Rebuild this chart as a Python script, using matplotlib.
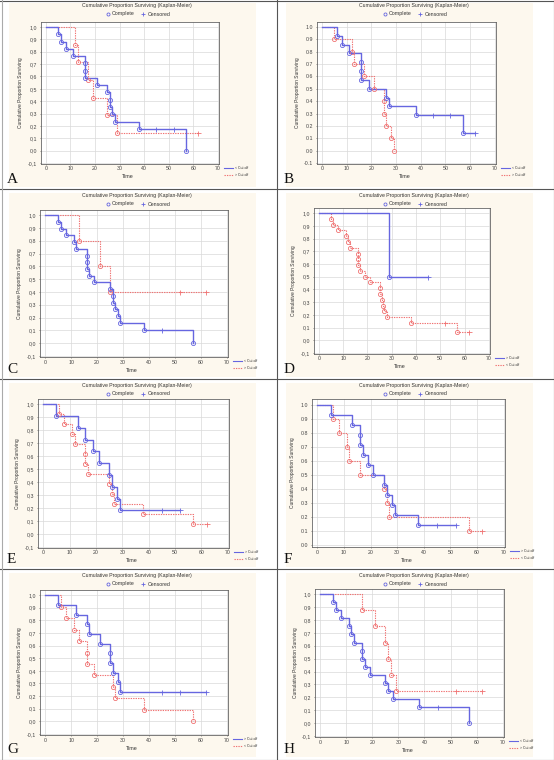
import matplotlib
matplotlib.use("Agg")
import matplotlib.pyplot as plt
from matplotlib.lines import Line2D
from matplotlib.patches import Rectangle
from matplotlib.ticker import FixedLocator, FuncFormatter

# ---------------- data (times of events, survival after event, censored times) -------------
A_blue_t = [5, 6, 8, 11, 16, 16, 16, 21, 25, 26, 26, 27, 28, 38, 57]
A_blue_s = [0.941, 0.882, 0.824, 0.765, 0.706, 0.647, 0.588, 0.529, 0.471, 0.412, 0.353, 0.294, 0.235, 0.176, 0.0]
A_blue_c = [45, 52]
A_red_t = [12, 13, 17, 19, 25, 29]
A_red_s = [0.857, 0.714, 0.571, 0.429, 0.286, 0.143]
A_red_c = [62]

B_blue_t = [6, 8, 11, 16, 16, 16, 19, 26, 27, 38, 57]
B_blue_s = [0.929, 0.857, 0.786, 0.714, 0.643, 0.571, 0.5, 0.429, 0.357, 0.286, 0.143]
B_blue_c = [45, 52, 62]
B_red_t = [5, 12, 13, 17, 21, 25, 25.3, 26, 28, 29]
B_red_s = [0.9, 0.8, 0.7, 0.6, 0.5, 0.4, 0.3, 0.2, 0.1, 0.0]
B_red_c = []

C_blue_t = [5, 6, 8, 11, 12, 16, 16, 16, 17, 19, 25, 26, 26, 27, 28, 29, 38, 57]
C_blue_s = [0.947, 0.895, 0.842, 0.789, 0.737, 0.684, 0.632, 0.579, 0.526, 0.474, 0.421, 0.368, 0.316,
            0.263, 0.211, 0.158, 0.105, 0.0]
C_blue_c = [45]
C_red_t = [13, 21, 25]
C_red_s = [0.8, 0.6, 0.4]
C_red_c = [52, 62]

D_blue_t = [29]
D_blue_s = [0.5]
D_blue_c = [45]
D_red_t = [5, 6, 8, 11, 12, 13, 16, 16, 16, 17, 19, 21, 25, 25, 26, 26.3, 27, 28, 38, 57]
D_red_s = [0.955, 0.909, 0.864, 0.818, 0.773, 0.727, 0.682, 0.636, 0.591, 0.545, 0.5, 0.455, 0.409,
           0.364, 0.318, 0.273, 0.227, 0.182, 0.136, 0.068]
D_red_c = [52, 62]

E_blue_t = [5, 13, 16, 19, 21, 25, 26, 28, 29]
E_blue_s = [0.909, 0.818, 0.727, 0.636, 0.545, 0.455, 0.364, 0.273, 0.182]
E_blue_c = [45, 52]
E_red_t = [6, 8, 11, 12, 16, 16, 17, 25, 26, 27, 38, 57]
E_red_s = [0.923, 0.846, 0.769, 0.692, 0.615, 0.538, 0.462, 0.385, 0.308, 0.231, 0.154, 0.077]
E_red_c = [62]

F_blue_t = [5, 13, 16, 16, 17, 19, 21, 25, 26, 28, 29, 38]
F_blue_s = [0.929, 0.857, 0.786, 0.714, 0.643, 0.571, 0.5, 0.429, 0.357, 0.286, 0.214, 0.143]
F_blue_c = [45, 52]
F_red_t = [6, 8, 11, 12, 16, 25, 26, 27, 57]
F_red_s = [0.9, 0.8, 0.7, 0.6, 0.5, 0.4, 0.3, 0.2, 0.1]
F_red_c = [62]

G_blue_t = [5, 12, 16, 17, 21, 25, 25, 26, 28, 29]
G_blue_s = [0.923, 0.846, 0.769, 0.692, 0.615, 0.538, 0.462, 0.385, 0.308, 0.231]
G_blue_c = [45, 52, 62]
G_red_t = [6, 8, 11, 13, 16, 16, 19, 26, 27, 38, 57]
G_red_s = [0.909, 0.818, 0.727, 0.636, 0.545, 0.455, 0.364, 0.273, 0.182, 0.091, 0.0]
G_red_c = []

H_blue_t = [5, 6, 8, 11, 12, 13, 16, 16, 17, 19, 25, 26, 28, 38, 57]
H_blue_s = [0.9375, 0.875, 0.8125, 0.75, 0.6875, 0.625, 0.5625, 0.5, 0.4375, 0.375, 0.3125, 0.25,
            0.1875, 0.125, 0.0]
H_blue_c = [45]
H_red_t = [16, 21, 25, 26, 27, 29]
H_red_s = [0.875, 0.75, 0.625, 0.5, 0.375, 0.25]
H_red_c = [52, 62]

title_text = "Cumulative Proportion Surviving (Kaplan-Meier)"
ylabel_text = "Cumulative Proportion Surviving"
xlabel_text = "Time"
x_ticks = [0, 10, 20, 30, 40, 50, 60, 70]
y_ticks = [-0.1, 0.0, 0.1, 0.2, 0.3, 0.4, 0.5, 0.6, 0.7, 0.8, 0.9, 1.0]
y_ticks_F = [0.0, 0.1, 0.2, 0.3, 0.4, 0.5, 0.6, 0.7, 0.8, 0.9, 1.0]

# ---------------- figure ----------------
W, H = 554, 760
CW, CH = 277, 190
fig = plt.figure(figsize=(W / 100, H / 100), dpi=100)
fig.patch.set_facecolor("white")
SANS = ["Liberation Sans", "DejaVu Sans"]
SERIF = ["Liberation Serif", "DejaVu Serif"]
BLUE = "#6666e0"
RED = "#f07272"
BG = "#fdf8ee"
RED_DASH = (0, (1.2, 1.0))


def fx(px):
    return px / W


def fy(py):
    return 1 - py / H


panels = [
    dict(letter="A", col=0, row=0, box=(41, 22, 219, 164), blue=(A_blue_t, A_blue_s, A_blue_c),
         red=(A_red_t, A_red_s, A_red_c), labels=("< Cut off", "> Cut off"), comma=True),
    dict(letter="B", col=1, row=0, box=(40, 22, 219, 164), blue=(B_blue_t, B_blue_s, B_blue_c),
         red=(B_red_t, B_red_s, B_red_c), labels=("< Cut off", "> Cut off"), comma=False),
    dict(letter="C", col=0, row=1, box=(40, 20, 228, 167), blue=(C_blue_t, C_blue_s, C_blue_c),
         red=(C_red_t, C_red_s, C_red_c), labels=("< Cut off", "> Cut off"), comma=True),
    dict(letter="D", col=1, row=1, box=(37, 18, 213, 164), blue=(D_blue_t, D_blue_s, D_blue_c),
         red=(D_red_t, D_red_s, D_red_c), labels=("> Cut off", "< Cut off"), comma=True),
    dict(letter="E", col=0, row=2, box=(38, 19, 229, 168), blue=(E_blue_t, E_blue_s, E_blue_c),
         red=(E_red_t, E_red_s, E_red_c), labels=("> Cut off", "< Cut off"), comma=True),
    dict(letter="F", col=1, row=2, box=(35, 19, 228, 167), blue=(F_blue_t, F_blue_s, F_blue_c),
         red=(F_red_t, F_red_s, F_red_c), labels=("> Cut off", "< Cut off"), comma=False),
    dict(letter="G", col=0, row=3, box=(40, 20, 228, 165), blue=(G_blue_t, G_blue_s, G_blue_c),
         red=(G_red_t, G_red_s, G_red_c), labels=("> Cut off", "< Cut off"), comma=True),
    dict(letter="H", col=1, row=3, box=(38, 19, 227, 167), blue=(H_blue_t, H_blue_s, H_blue_c),
         red=(H_red_t, H_red_s, H_red_c), labels=("< Cut off", "> Cut off"), comma=True),
]


def draw_km(ax, t, s, c, color, solid):
    end = max(list(t) + list(c))
    xs = [0] + list(t) + [end]
    ys = [1.0] + list(s) + [s[-1]]
    if solid:
        ax.step(xs, ys, where="post", color=color, lw=1.0, zorder=3)
    else:
        ax.step(xs, ys, where="post", color=color, lw=0.8, linestyle=RED_DASH, zorder=3)
    ax.plot(t, s, linestyle="none", marker="o", markersize=3.0, markerfacecolor="none",
            markeredgecolor=color, markeredgewidth=0.6, zorder=4)
    cy = []
    for ct in c:
        lvl = 1.0
        for ti, si in zip(t, s):
            if ti <= ct:
                lvl = si
        cy.append(lvl)
    if c:
        ax.plot(c, cy, linestyle="none", marker="+", markersize=3.6, markeredgecolor=color,
                markeredgewidth=0.6, zorder=4)


for p in panels:
    ox, oy = p["col"] * CW, p["row"] * CH
    # beige chart background
    fig.patches.append(Rectangle((fx(ox + 9), fy(oy + 187)), 247 / W, 184 / H,
                                 transform=fig.transFigure, facecolor=BG, edgecolor="none", zorder=-10))
    l, t_, r, b = p["box"]
    ax = fig.add_axes([fx(ox + l), fy(oy + b), (r - l) / W, (b - t_) / H])
    ax.set_zorder(2)
    ax.set_facecolor("white")
    ax.set_xlim(-2, 70.5)
    isF = p["letter"] == "F"
    if isF:
        ax.set_ylim(-0.012, 1.043)
        yt = y_ticks_F
    else:
        ax.set_ylim(-0.108, 1.04)
        yt = y_ticks
    ax.xaxis.set_major_locator(FixedLocator(x_ticks))
    ax.yaxis.set_major_locator(FixedLocator(yt))
    comma = p["comma"]
    ax.yaxis.set_major_formatter(FuncFormatter(
        lambda v, pos, cm=comma: (f"{v:.1f}".replace(".", ",") if cm else f"{v:.1f}")))
    ax.xaxis.set_major_formatter(FuncFormatter(lambda v, pos: f"{v:.0f}"))
    ax.grid(True, color="#d9d9d9", lw=0.5, zorder=0)
    ax.set_axisbelow(True)
    ax.tick_params(labelsize=3.8, length=1.0, width=0.4, colors="#444444")
    ax.tick_params(axis="x", pad=0.8)
    ax.tick_params(axis="y", pad=1.8)
    for lab in ax.get_xticklabels() + ax.get_yticklabels():
        lab.set_family(SANS)
    for sp in ax.spines.values():
        sp.set_color("#666666")
        sp.set_linewidth(0.6)

    bt, bs, bc = p["blue"]
    rt, rs, rc = p["red"]
    draw_km(ax, rt, rs, rc, RED, False)
    draw_km(ax, bt, bs, bc, BLUE, True)

    # title & header legend
    fig.text(fx(ox + 137), fy(oy + 6), title_text, ha="center", va="center", fontsize=3.7,
             family=SANS, color="#333333")
    fig.lines.append(Line2D([fx(ox + 108)], [fy(oy + 14)], transform=fig.transFigure, marker="o",
                            markersize=2.2, markerfacecolor="none", markeredgecolor=BLUE,
                            markeredgewidth=0.6, linestyle="none"))
    fig.text(fx(ox + 112), fy(oy + 14), "Complete", ha="left", va="center", fontsize=3.8,
             family=SANS, color="#333333")
    fig.lines.append(Line2D([fx(ox + 143)], [fy(oy + 14)], transform=fig.transFigure, marker="+",
                            markersize=2.6, markeredgecolor=BLUE, markeredgewidth=0.6,
                            linestyle="none"))
    fig.text(fx(ox + 148), fy(oy + 14), "Censored", ha="left", va="center", fontsize=3.8,
             family=SANS, color="#333333")

    # axis labels
    fig.text(fx(ox + l - 20), fy(oy + (t_ + b) / 2), ylabel_text, rotation=90, ha="center",
             va="center", fontsize=3.5, family=SANS, color="#333333")
    fig.text(fx(ox + (l + r) / 2 - 2), fy(oy + b + 13), xlabel_text, ha="center", va="center",
             fontsize=3.9, family=SANS, color="#333333")

    # small series legend
    for k, (col, lab) in enumerate(zip((BLUE, RED), p["labels"])):
        yy = fy(oy + b + 4 + 7 * k)
        ls = "-" if k == 0 else RED_DASH
        fig.lines.append(Line2D([fx(ox + r + 5), fx(ox + r + 14)], [yy, yy],
                                transform=fig.transFigure, color=col, lw=0.8, linestyle=ls))
        fig.text(fx(ox + r + 16), yy, lab, ha="left", va="center", fontsize=2.5, family=SANS,
                 color="#333333")

    # panel letter
    fig.text(fx(ox + 7), fy(oy + 183), p["letter"], ha="left", va="baseline", fontsize=11,
             family=SERIF, color="#111111")

# panel borders
BORDER = "#555555"
for yb in (0.5, 189, 379, 569, 759.5):
    fig.lines.append(Line2D([0, 1], [fy(yb), fy(yb)], transform=fig.transFigure, color=BORDER, lw=0.8))
for xb in (1.5, 277, 553.5):
    fig.lines.append(Line2D([fx(xb), fx(xb)], [0, 1], transform=fig.transFigure,
                            color=("#aaaaaa" if xb < 5 else BORDER), lw=0.8))

fig.savefig("out.png", dpi=100, facecolor="white")
